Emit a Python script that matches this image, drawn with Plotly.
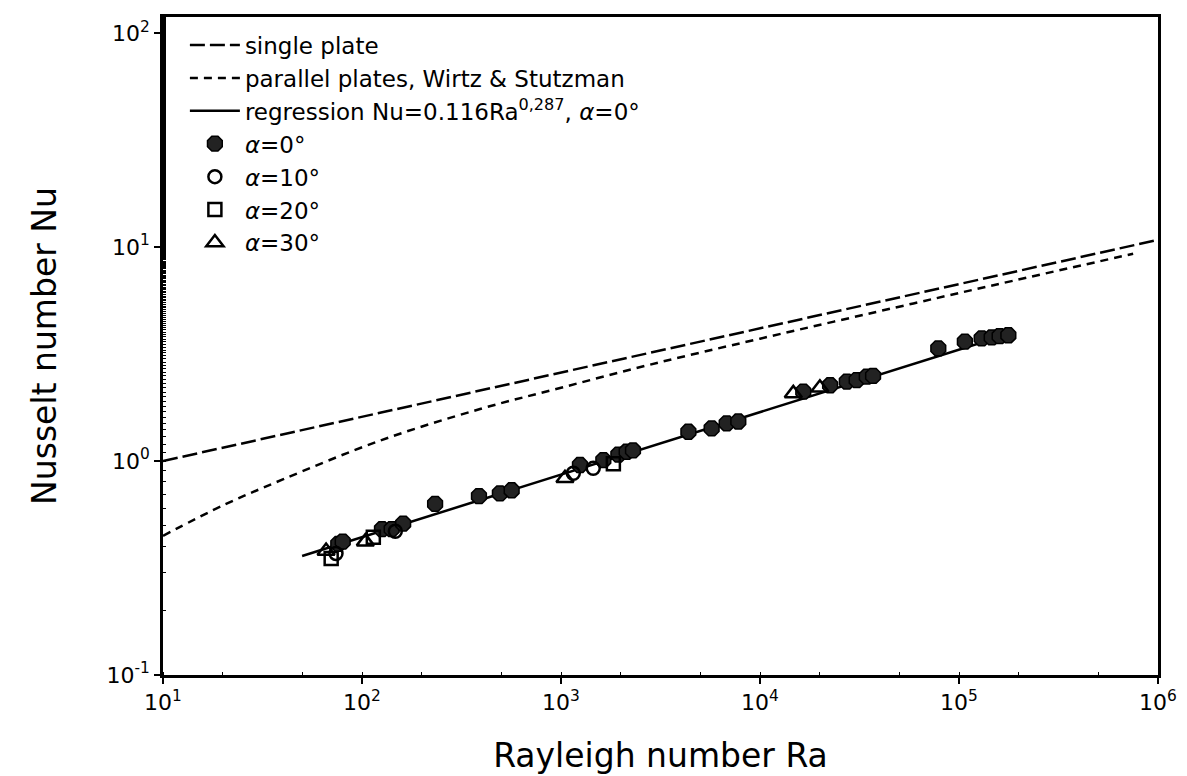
import plotly.graph_objects as go

# ---- data ----
ra_single = [10, 1e6]
nu_single = [1.0, 10.8]

ra_parallel = [10, 20, 40, 123, 392, 1000, 2800, 1e4, 5.9e4, 1.9e5, 7.5e5]
nu_parallel = [0.447, 0.62, 0.82, 1.245, 1.75, 2.20, 2.82, 3.73, 5.45, 6.98, 9.30]

ra_regr = [50, 1.9e5]
nu_regr = [0.36, 4.0]

ra_a0 = [76, 80, 126, 141, 161, 233, 387, 493, 565, 1245, 1632, 1942, 2138, 2300,
         4366, 5715, 6800, 7780, 1.65e4, 2.25e4, 2.73e4, 3.06e4, 3.44e4, 3.7e4,
         7.87e4, 1.07e5, 1.3e5, 1.46e5, 1.6e5, 1.77e5]
nu_a0 = [0.41, 0.42, 0.48, 0.48, 0.51, 0.63, 0.686, 0.706, 0.73, 0.958, 1.01, 1.07, 1.105, 1.12,
         1.37, 1.42, 1.50, 1.53, 2.11, 2.26, 2.35, 2.39, 2.48, 2.50,
         3.36, 3.61, 3.74, 3.78, 3.83, 3.87]

ra_a10 = [74, 147, 1153, 1452]
nu_a10 = [0.37, 0.47, 0.876, 0.924]

ra_a20 = [70, 114, 1833]
nu_a20 = [0.35, 0.44, 0.97]

ra_a30 = [66, 104, 1047, 1.47e4, 2.0e4]
nu_a30 = [0.38, 0.42, 0.83, 2.07, 2.2]

x_tickvals = [1e1, 1e2, 1e3, 1e4, 1e5, 1e6]
x_ticktext = ["10<sup>1</sup>", "10<sup>2</sup>", "10<sup>3</sup>", "10<sup>4</sup>", "10<sup>5</sup>", "10<sup>6</sup>"]
y_tickvals = [1e-1, 1e0, 1e1, 1e2]
y_ticktext = ["10<sup>-1</sup>", "10<sup>0</sup>", "10<sup>1</sup>", "10<sup>2</sup>"]

FONT = "DejaVu Sans"

fig = go.Figure()
fig.add_trace(go.Scatter(x=ra_single, y=nu_single, mode="lines", name="single plate", legendgroup="g1",
                         line=dict(color="black", width=2.5, dash="15px,5px")))
fig.add_trace(go.Scatter(x=ra_parallel, y=nu_parallel, mode="lines", legendgroup="g2",
                         name="parallel plates, Wirtz &amp; Stutzman",
                         line=dict(color="black", width=2.5, dash="8px,6px", shape="spline")))
fig.add_trace(go.Scatter(x=ra_regr, y=nu_regr, mode="lines", legendgroup="g3",
                         name="regression Nu=0.116Ra<sup>0,287</sup>, <i>α</i>=0°",
                         line=dict(color="black", width=2.5)))
fig.add_trace(go.Scatter(x=ra_a0, y=nu_a0, mode="markers", name="<i>α</i>=0°", legendgroup="g4",
                         marker=dict(symbol="octagon", size=16, color="#222222",
                                     line=dict(color="black", width=1.5))))
fig.add_trace(go.Scatter(x=ra_a10, y=nu_a10, mode="markers", name="<i>α</i>=10°", legendgroup="g5",
                         marker=dict(symbol="circle-open", size=13, color="black",
                                     line=dict(color="black", width=2.5))))
fig.add_trace(go.Scatter(x=ra_a20, y=nu_a20, mode="markers", name="<i>α</i>=20°", legendgroup="g6",
                         marker=dict(symbol="square-open", size=13, color="black",
                                     line=dict(color="black", width=2.5))))
fig.add_trace(go.Scatter(x=ra_a30, y=nu_a30, mode="markers", name="<i>α</i>=30°", legendgroup="g7",
                         marker=dict(symbol="triangle-up-open", size=15, color="black",
                                     line=dict(color="black", width=2.5))))

fig.update_layout(
    width=1187, height=776,
    margin=dict(l=163, r=29, t=17, b=101),
    paper_bgcolor="white", plot_bgcolor="white",
    font=dict(family=FONT, color="black", size=20),
    showlegend=True,
    legend=dict(x=0.022, y=0.99, xanchor="left", yanchor="top",
                bgcolor="rgba(0,0,0,0)", font=dict(size=23, family=FONT),
                tracegroupgap=0, itemwidth=50),
)
fig.update_xaxes(type="log", range=[1, 6], tickvals=x_tickvals, ticktext=x_ticktext,
                 automargin=False,
                 showgrid=False, zeroline=False, showline=True, linecolor="black", linewidth=2.5,
                 mirror=True, ticks="outside", ticklen=6, tickwidth=2, tickcolor="black",
                 minor=dict(ticks="inside", ticklen=3, tickwidth=1, tickcolor="black"),
                 tickfont=dict(size=22, family=FONT),
                 title=dict(text="Rayleigh number Ra", font=dict(size=33, family=FONT), standoff=30))
fig.update_yaxes(type="log", range=[-1, 2.075], tickvals=y_tickvals, ticktext=y_ticktext,
                 automargin=False,
                 showgrid=False, zeroline=False, showline=True, linecolor="black", linewidth=2.5,
                 mirror=True, ticks="outside", ticklen=6, tickwidth=2, tickcolor="black",
                 minor=dict(ticks="inside", ticklen=3, tickwidth=1, tickcolor="black"),
                 tickfont=dict(size=22, family=FONT),
                 title=dict(text="Nusselt number Nu", font=dict(size=33, family=FONT), standoff=40))

fig.write_html("out.html")
